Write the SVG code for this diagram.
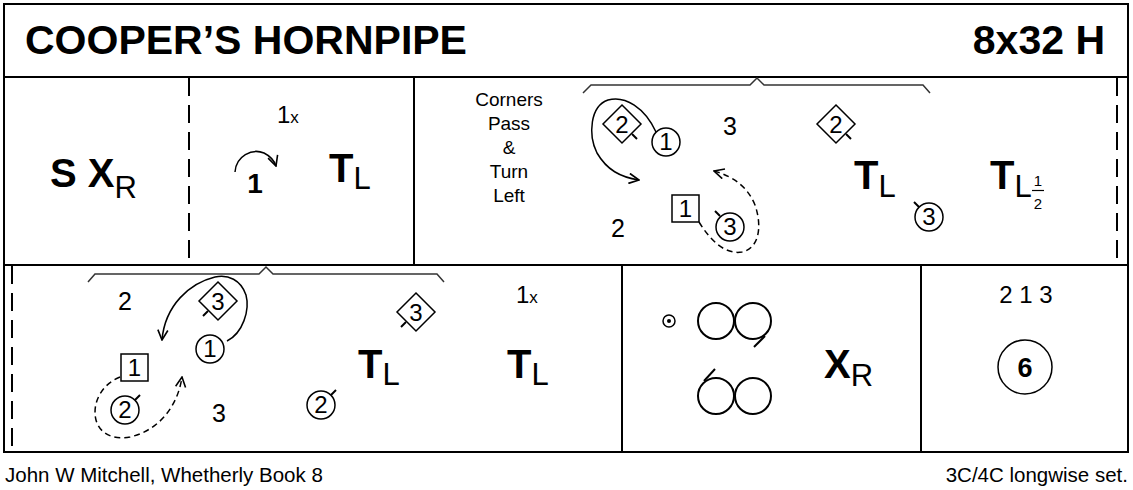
<svg xmlns="http://www.w3.org/2000/svg" width="1133" height="490" viewBox="0 0 1133 490">
<style>
text{font-family:"Liberation Sans",Arial,sans-serif;fill:#000}
.b{font-weight:bold}
.frame{fill:none;stroke:#000;stroke-width:2}
.dash{fill:none;stroke:#000;stroke-width:2;stroke-dasharray:18 9}
.brk{fill:none;stroke:#333;stroke-width:1.5}
.sym{fill:#fff;stroke:#000;stroke-width:1.5}
.tick{stroke:#000;stroke-width:2}
.cv{fill:none;stroke:#000;stroke-width:1.5}
.cvd{fill:none;stroke:#000;stroke-width:1.5;stroke-dasharray:6 4}
.n{font-size:24px;text-anchor:middle}
.m{text-anchor:middle}
</style>
<defs>
<marker id="ah" viewBox="0 0 12 12" refX="11" refY="6" markerWidth="12" markerHeight="12" markerUnits="userSpaceOnUse" orient="auto">
<path d="M1,1 L11,6 L1,11" fill="none" stroke="#000" stroke-width="1.6"/>
</marker>
</defs>
<rect width="1133" height="490" fill="#fff"/>

<g id="frame">
<rect class="frame" x="4" y="4" width="1124" height="448"/>
<line class="frame" x1="4" y1="77" x2="1128" y2="77"/>
<line class="frame" x1="4" y1="265" x2="1128" y2="265"/>
<line class="dash" x1="189" y1="78" x2="189" y2="265"/>
<line class="frame" x1="414" y1="77" x2="414" y2="265"/>
<line class="dash" x1="1117" y1="78" x2="1117" y2="265"/>
<line class="dash" x1="12" y1="266" x2="12" y2="452"/>
<line class="frame" x1="622" y1="265" x2="622" y2="452"/>
<line class="frame" x1="921" y1="265" x2="921" y2="452"/>
</g>

<g id="title">
<text class="b" x="25" y="54" font-size="41">COOPER’S HORNPIPE</text>
<text class="b" x="1105" y="54" font-size="41" text-anchor="end">8x32 H</text>
</g>

<g id="r1s1">
<text class="b" x="50" y="187" font-size="40">S X<tspan font-weight="normal" font-size="31" dy="11">R</tspan></text>
</g>

<g id="r1s2">
<text x="277" y="123" font-size="24">1<tspan font-size="17">x</tspan></text>
<path class="cv" d="M235,172 C236,156 252,148 264,153 C270,156 274,160 276,166" marker-end="url(#ah)"/>
<text class="b m" x="255" y="193" font-size="28">1</text>
<text class="b" x="329" y="182" font-size="40">T<tspan font-weight="normal" font-size="31" dy="7">L</tspan></text>
</g>

<g id="r1s3">
<path class="brk" d="M583,93 L591,85 L750,85 L757,78 L764,85 L923,85 L930,93"/>
<text class="m" x="509" y="106" font-size="19">Corners</text>
<text class="m" x="509" y="130" font-size="19">Pass</text>
<text class="m" x="509" y="154" font-size="19">&amp;</text>
<text class="m" x="509" y="178" font-size="19">Turn</text>
<text class="m" x="509" y="202" font-size="19">Left</text>
</g>

<g id="r1-connectors">
<path class="cv" d="M656,132 C645,108 625,95 608,100 C590,106 588,135 597,153 C607,170 620,177 639,180" marker-end="url(#ah)"/>
<path class="cvd" d="M699,222 C710,240 725,255 742,252 C760,248 762,225 755,205 C748,188 735,177 714,171" marker-end="url(#ah)"/>
</g>

<g id="r1-d2a">
<line class="tick" x1="632" y1="134" x2="637" y2="139"/>
<path class="sym" d="M622,105 L641,124 L622,143 L603,124 Z"/>
<text class="n" x="622" y="133" font-size="25">2</text>
</g>
<g id="r1-c1">
<circle class="sym" cx="666" cy="142" r="14"/>
<text class="n" x="666" y="150">1</text>
</g>
<text class="m" x="730" y="135" font-size="25">3</text>
<text class="m" x="618" y="237" font-size="25">2</text>
<g id="r1-s1">
<rect class="sym" x="672" y="195" width="27" height="27"/>
<text class="n" x="685.5" y="217" font-size="25">1</text>
</g>
<g id="r1-c3a">
<line class="tick" x1="720" y1="216" x2="715" y2="211"/>
<circle class="sym" cx="730" cy="227" r="14"/>
<text class="n" x="730" y="235">3</text>
</g>
<g id="r1-d2b">
<line class="tick" x1="846" y1="134" x2="851" y2="139"/>
<path class="sym" d="M836,105 L855,124 L836,143 L817,124 Z"/>
<text class="n" x="836" y="133" font-size="25">2</text>
</g>
<g id="r1-tl">
<text class="b" x="854" y="189" font-size="40">T<tspan font-weight="normal" font-size="31" dy="8">L</tspan></text>
</g>
<g id="r1-c3b">
<line class="tick" x1="919" y1="207" x2="914" y2="202"/>
<circle class="sym" cx="929" cy="217" r="14"/>
<text class="n" x="929" y="225">3</text>
</g>
<g id="r1-tlhalf">
<text class="b" x="990" y="189" font-size="40">T<tspan font-weight="normal" font-size="31" dy="8">L</tspan></text>
<text class="m" x="1038" y="186" font-size="15">1</text>
<line x1="1032" y1="190.5" x2="1044" y2="190.5" stroke="#000" stroke-width="1.2"/>
<text class="m" x="1038" y="209" font-size="15">2</text>
</g>

<g id="r2s1">
<path class="brk" d="M88,282 L95,274 L259,274 L266,267 L273,274 L437,274 L444,282"/>
<text class="m" x="125" y="310" font-size="25">2</text>
<text class="m" x="219" y="422" font-size="25">3</text>
</g>
<g id="r2-connectors">
<path class="cv" d="M227,341 C243,333 250,310 246,295 C241,280 228,274 215,277 C190,283 165,305 162,340" marker-end="url(#ah)"/>
<path class="cvd" d="M120,377 C100,385 92,405 96,420 C100,435 115,440 130,437 C160,430 178,405 182,377" marker-end="url(#ah)"/>
</g>
<g id="r2-d3a">
<line class="tick" x1="208" y1="311" x2="203" y2="316"/>
<path class="sym" d="M218,282 L237,301 L218,320 L199,301 Z"/>
<text class="n" x="218" y="310" font-size="25">3</text>
</g>
<g id="r2-c1">
<circle class="sym" cx="210" cy="349" r="14"/>
<text class="n" x="210" y="357">1</text>
</g>
<g id="r2-s1">
<rect class="sym" x="121" y="354" width="27" height="27"/>
<text class="n" x="134.5" y="376" font-size="25">1</text>
</g>
<g id="r2-c2a">
<line class="tick" x1="135" y1="400" x2="140" y2="395"/>
<circle class="sym" cx="125" cy="410" r="14"/>
<text class="n" x="125" y="418">2</text>
</g>
<g id="r2-d3b">
<line class="tick" x1="406" y1="322" x2="401" y2="327"/>
<path class="sym" d="M416,293 L435,312 L416,331 L397,312 Z"/>
<text class="n" x="416" y="321" font-size="25">3</text>
</g>
<g id="r2-c2b">
<line class="tick" x1="331" y1="395" x2="336" y2="390"/>
<circle class="sym" cx="321" cy="405" r="14"/>
<text class="n" x="321" y="413">2</text>
</g>
<g id="r2-tl1">
<text class="b" x="358" y="378" font-size="40">T<tspan font-weight="normal" font-size="31" dy="7">L</tspan></text>
</g>
<g id="r2-1x">
<text x="516" y="303" font-size="24">1<tspan font-size="17">x</tspan></text>
</g>
<g id="r2-tl2">
<text class="b" x="507" y="378" font-size="40">T<tspan font-weight="normal" font-size="31" dy="7">L</tspan></text>
</g>

<g id="r2s2">
<circle cx="669" cy="321" r="6" fill="none" stroke="#000" stroke-width="1.5"/>
<circle cx="669" cy="321" r="2" fill="#000"/>
<circle cx="716" cy="321" r="18" fill="none" stroke="#000" stroke-width="2"/>
<circle cx="753" cy="321" r="18" fill="none" stroke="#000" stroke-width="2"/>
<line x1="765" y1="336" x2="754" y2="347" stroke="#000" stroke-width="2"/>
<circle cx="716" cy="396" r="18" fill="none" stroke="#000" stroke-width="2"/>
<circle cx="753" cy="396" r="18" fill="none" stroke="#000" stroke-width="2"/>
<line x1="704" y1="381" x2="715" y2="369" stroke="#000" stroke-width="2"/>
<text class="b" x="824" y="378" font-size="40">X<tspan font-weight="normal" font-size="31" dy="8">R</tspan></text>
</g>

<g id="r2s3">
<text class="m" x="1026" y="303" font-size="24">2 1 3</text>
<circle cx="1025" cy="367" r="27" fill="none" stroke="#000" stroke-width="1.5"/>
<text class="b m" x="1025" y="377" font-size="27">6</text>
</g>

<g id="footer">
<text x="5" y="482" font-size="20.5">John W Mitchell, Whetherly Book 8</text>
<text x="1128" y="482" font-size="20.5" text-anchor="end">3C/4C longwise set.</text>
</g>
</svg>
